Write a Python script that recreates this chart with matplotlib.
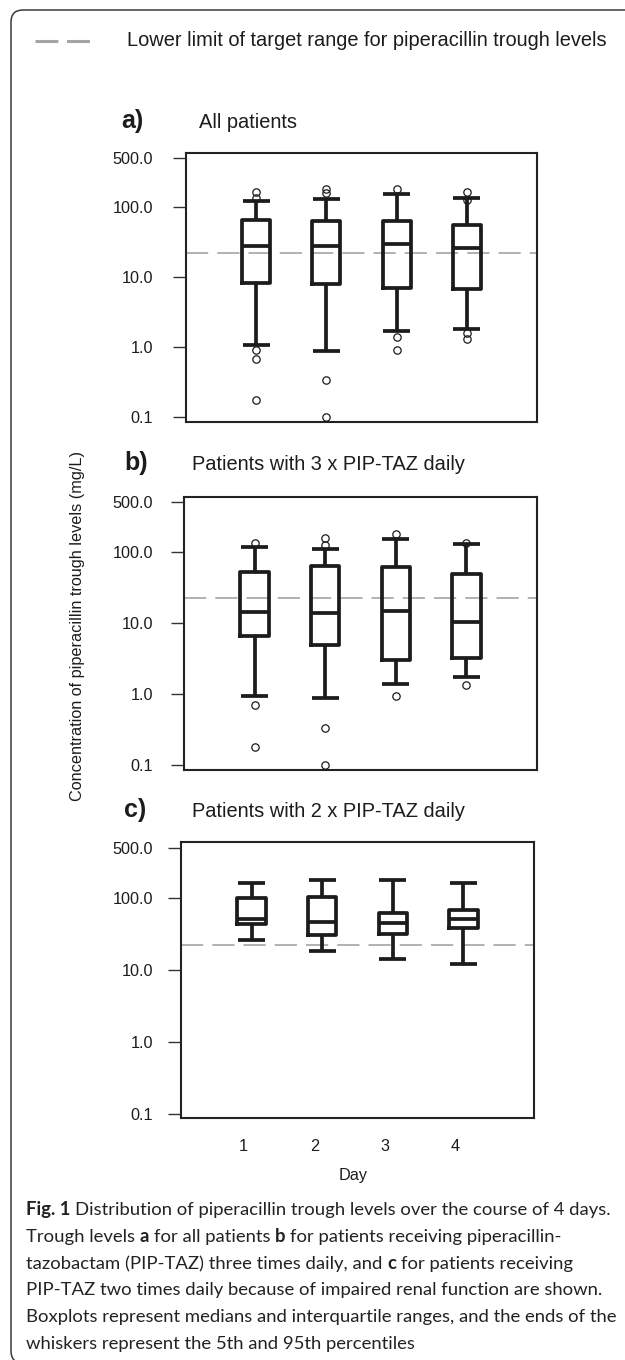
import matplotlib
matplotlib.use("Agg")
import matplotlib.pyplot as plt
from matplotlib.path import Path
from matplotlib.patches import PathPatch
from matplotlib.lines import Line2D
from matplotlib.ticker import NullLocator
import matplotlib.transforms as mtransforms

plt.rcParams['lines.scale_dashes'] = False
plt.rcParams['font.family'] = ['Liberation Sans', 'DejaVu Sans']

# ---------------- data ----------------
days = [1, 2, 3, 4]
day_labels = ["1", "2", "3", "4"]
ytick_values = [0.1, 1.0, 10.0, 100.0, 500.0]
ytick_labels = ["0.1", "1.0", "10.0", "100.0", "500.0"]
target_lower_limit = 22.5

# a) all patients
a_whislo = [1.09, 0.89, 1.70, 1.84]
a_q1 = [8.2, 7.9, 7.0, 6.7]
a_med = [27.6, 27.9, 30.0, 25.8]
a_q3 = [65.0, 63.0, 63.0, 55.0]
a_whishi = [124.0, 130.0, 155.0, 136.0]
a_fliers = [[165.0, 135.0, 0.93, 0.68, 0.18], [184.0, 160.0, 0.34, 0.10],
            [180.0, 1.39, 0.93], [167.0, 128.0, 1.60, 1.33]]

# b) 3 x daily
b_whislo = [0.93, 0.89, 1.40, 1.73]
b_q1 = [6.5, 5.0, 3.07, 3.2]
b_med = [14.3, 13.7, 14.8, 10.4]
b_q3 = [52.5, 63.0, 62.0, 48.5]
b_whishi = [119.0, 110.0, 152.0, 131.0]
b_fliers = [[134.0, 0.70, 0.18], [157.0, 127.0, 0.34, 0.10], [181.0, 0.93], [136.0, 1.36]]

# c) 2 x daily
c_whislo = [26.5, 18.3, 14.4, 12.2]
c_q1 = [44.0, 31.0, 32.0, 38.0]
c_med = [51.0, 46.0, 45.0, 51.0]
c_q3 = [102.0, 103.0, 62.0, 68.0]
c_whishi = [165.0, 179.0, 179.0, 165.0]
c_fliers = [[], [], [], []]

panel_letters = ["a)", "b)", "c)"]
panel_titles = ["All patients", "Patients with 3 x PIP-TAZ daily", "Patients with 2 x PIP-TAZ daily"]
legend_text = "Lower limit of target range for piperacillin trough levels"
ylabel_text = "Concentration of piperacillin trough levels (mg/L)"
xlabel_text = "Day"
caption_lines = [
    [("Fig. 1", "bold"), ("Distribution of piperacillin trough levels over the course of 4 days.", "normal")],
    [("Trough levels", "normal"), ("a", "bold"), ("for all patients", "normal"), ("b", "bold"),
     ("for patients receiving piperacillin-", "normal")],
    [("tazobactam (PIP-TAZ) three times daily, and", "normal"), ("c", "bold"), ("for patients receiving", "normal")],
    [("PIP-TAZ two times daily because of impaired renal function are shown.", "normal")],
    [("Boxplots represent medians and interquartile ranges, and the ends of the", "normal")],
    [("whiskers represent the 5th and 95th percentiles", "normal")],
]

# ---------------- layout ----------------
W, H = 625.0, 1360.0
fig = plt.figure(figsize=(6.25, 13.6), dpi=100)
fig.patch.set_facecolor("white")


def fx(x):
    return x / W


def fy(y):
    return 1.0 - y / H


INK = "#1c1c1c"
GRAY = "#9c9c9c"

# rounded frame (top and left visible)
r = 12
x0, y0, y1, xr = 11, 10, 1363, 650
verts = [(xr, y0), (x0 + r, y0), (x0, y0), (x0, y0 + r), (x0, y1 - r), (x0, y1), (x0 + r, y1), (xr, y1)]
codes = [Path.MOVETO, Path.LINETO, Path.CURVE3, Path.CURVE3, Path.LINETO, Path.CURVE3, Path.CURVE3, Path.LINETO]
fig.add_artist(PathPatch(Path([(fx(a), fy(b)) for a, b in verts], codes), transform=fig.transFigure,
                         fill=False, lw=1.1, edgecolor="#3a3a3a"))

# legend
fig.add_artist(Line2D([fx(35), fx(89.5)], [fy(40.7), fy(40.7)], transform=fig.transFigure,
                      color="#a5a5a5", lw=2.2, dashes=(16.5, 6.2), solid_capstyle="butt", dash_capstyle="butt"))
fig.text(fx(127), fy(46.5), legend_text, fontsize=14.4, va="baseline", ha="left", color=INK)

panels = [
    dict(box=(186, 152.7, 537, 422), letter=(121, 128.3), title=(199, 128.3),
         data=(a_whislo, a_q1, a_med, a_q3, a_whishi, a_fliers)),
    dict(box=(184, 496.7, 537, 770), letter=(124, 470), title=(192, 470),
         data=(b_whislo, b_q1, b_med, b_q3, b_whishi, b_fliers)),
    dict(box=(181, 842.3, 534, 1118.3), letter=(124, 816.7), title=(192, 816.7),
         data=(c_whislo, c_q1, c_med, c_q3, c_whishi, c_fliers)),
]

LABEL_RIGHT = 153.0
TICKLEN_PX = 13.0
axes = []
for i, p in enumerate(panels):
    l, t, rr, b = p["box"]
    ax = fig.add_axes([fx(l), fy(b), (rr - l) / W, (b - t) / H])
    axes.append(ax)
    whislo, q1, med, q3, whishi, fliers = p["data"]
    stats = [dict(whislo=whislo[k], q1=q1[k], med=med[k], q3=q3[k], whishi=whishi[k], fliers=fliers[k])
             for k in range(len(days))]
    ax.axhline(target_lower_limit, color=GRAY, lw=1.1, dashes=(16, 6.5), zorder=1)
    lw = 2.7
    ax.bxp(stats, positions=days, widths=0.4, capwidths=0.38, showfliers=True,
           boxprops=dict(color=INK, linewidth=lw),
           whiskerprops=dict(color=INK, linewidth=lw, solid_capstyle="butt"),
           capprops=dict(color=INK, linewidth=lw, solid_capstyle="butt"),
           medianprops=dict(color=INK, linewidth=lw, solid_capstyle="butt"),
           flierprops=dict(marker="o", markersize=5.3, markerfacecolor="none",
                           markeredgecolor=INK, markeredgewidth=0.9, linestyle="none"),
           zorder=3)
    ax.set_yscale("log")
    ax.set_ylim(0.086, 600)
    ax.set_xlim(0, 5)
    ax.set_yticks(ytick_values)
    ax.set_yticklabels(ytick_labels)
    ax.yaxis.set_minor_locator(NullLocator())
    pad_pt = (l - TICKLEN_PX - LABEL_RIGHT) * 0.72
    ax.tick_params(axis="y", length=TICKLEN_PX * 0.72, width=1.0, color="#333333",
                   pad=pad_pt, labelsize=11.7, labelcolor=INK)
    for sp in ax.spines.values():
        sp.set_linewidth(1.5)
        sp.set_color("#222222")
    if i < 2:
        ax.set_xticks([])
    else:
        ax.set_xticks(days)
        ax.set_xticklabels(day_labels)
        ax.tick_params(axis="x", length=0, pad=15.0, labelsize=11.7, labelcolor=INK)
        off = mtransforms.ScaledTranslation(-8 / 100, 0, fig.dpi_scale_trans)
        for lab in ax.get_xticklabels():
            lab.set_transform(lab.get_transform() + off)
        ax.set_xlabel(xlabel_text, fontsize=11.7, color=INK)
        ax.xaxis.set_label_coords((353 - l) / (rr - l), -(1180 - b) / (b - t))
        ax.xaxis.label.set_verticalalignment("baseline")
    lx, ly = p["letter"]
    fig.text(fx(lx), fy(ly), panel_letters[i], fontsize=18, weight="bold", va="baseline", color=INK)
    tx, ty = p["title"]
    fig.text(fx(tx), fy(ty), panel_titles[i], fontsize=14.4, va="baseline", color=INK)

fig.text(fx(78), fy(626), ylabel_text, rotation=90, ha="center", va="center", fontsize=11.7, color=INK)

# ---------------- caption ----------------
CAP_FAMILY = ["Lato", "Open Sans", "DejaVu Sans"]
CAP_COLOR = "#222222"
renderer = fig.canvas.get_renderer()


def twidth(s, weight, size):
    tt = fig.text(0, 0, s, fontsize=size, family=CAP_FAMILY, weight=weight)
    w = tt.get_window_extent(renderer).width
    tt.remove()
    return w


def line_width(segs, size):
    sp = twidth("x x", "normal", size) - twidth("xx", "normal", size)
    return sum(twidth(s, wt, size) for s, wt in segs) + sp * (len(segs) - 1)


base = 10.0
widest = max(line_width(segs, base) for segs in caption_lines)
cap_size = base * 591.0 / widest
space_w = twidth("x x", "normal", cap_size) - twidth("xx", "normal", cap_size)
baselines = [1215.0, 1242.0, 1268.8, 1295.5, 1322.2, 1349.0]
for segs, by in zip(caption_lines, baselines):
    x = 26.0
    for s, wt in segs:
        tt = fig.text(fx(x), fy(by), s, fontsize=cap_size, family=CAP_FAMILY, weight=wt,
                      va="baseline", ha="left", color=CAP_COLOR)
        x += tt.get_window_extent(renderer).width + space_w

fig.savefig("out.png", dpi=100)
